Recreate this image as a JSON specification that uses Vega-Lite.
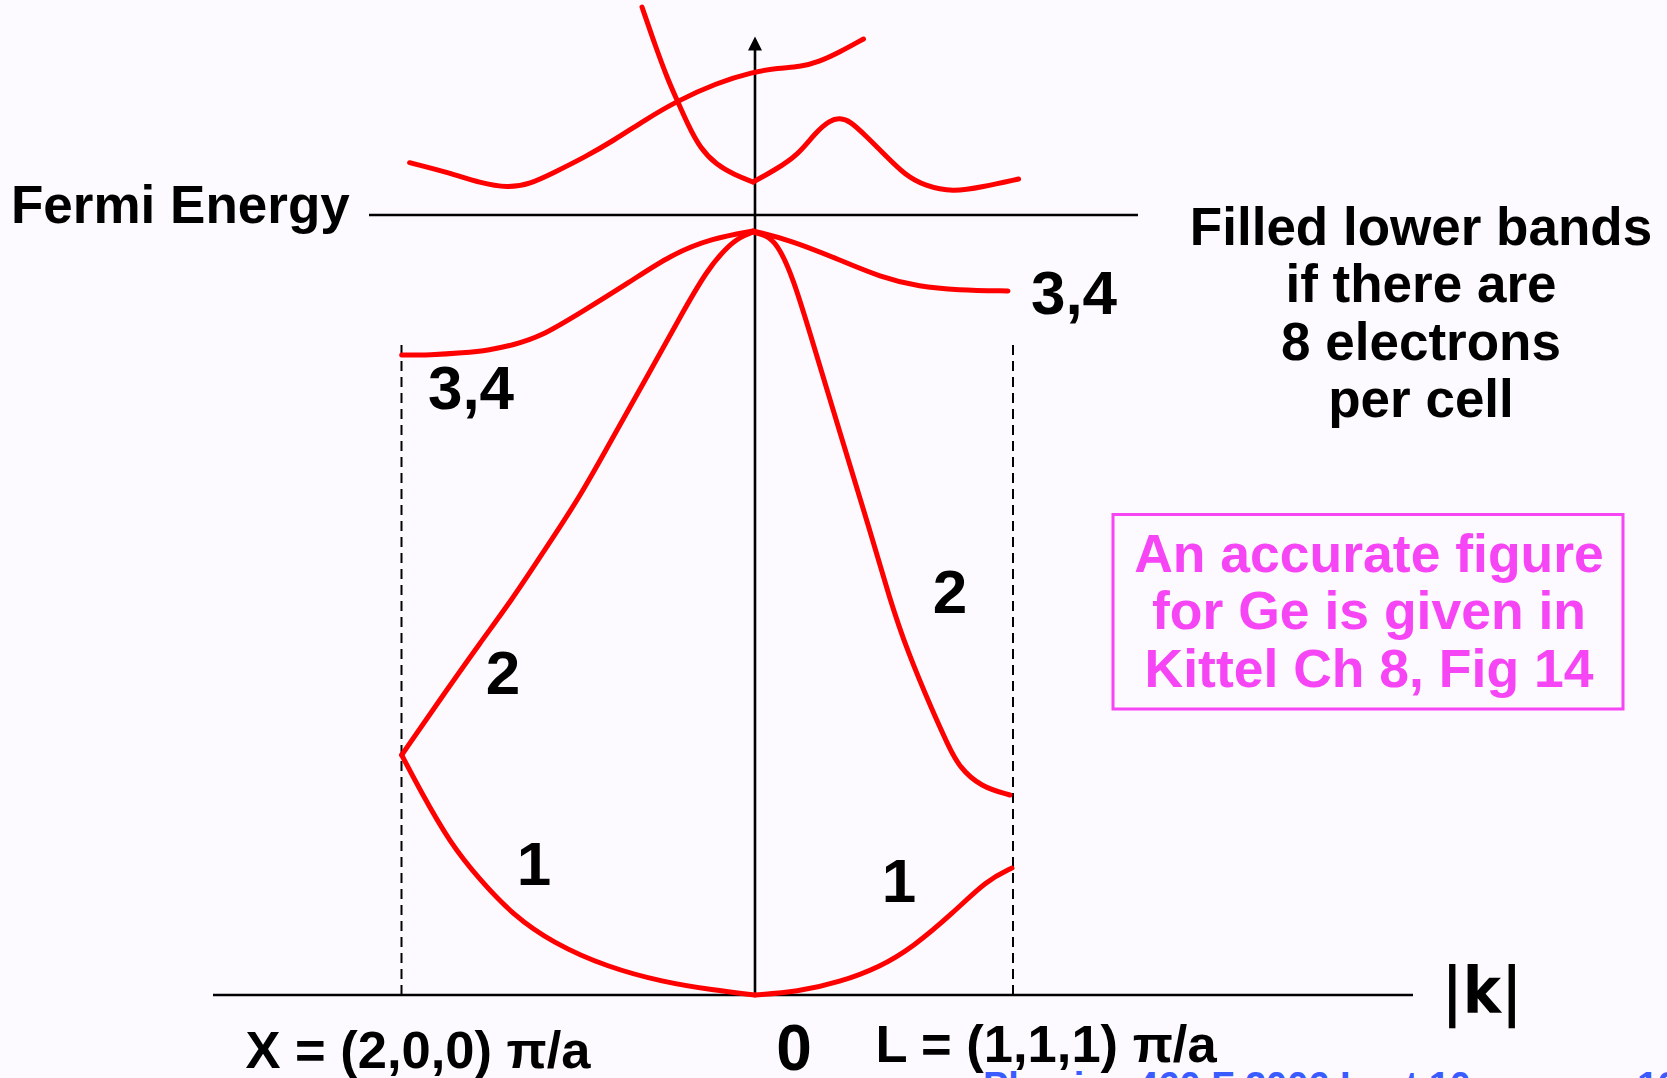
{
  "$schema": "https://vega.github.io/schema/vega-lite/v6.json",
  "width": 1667,
  "height": 1078,
  "autosize": {"type": "none"},
  "padding": 0,
  "background": "#fcfaff",
  "config": {"view": {"stroke": null}},
  "datasets": {
    "bands": [
      {"s": "A", "o": 1, "k": -345.4, "E": 832.3},
      {"s": "A", "o": 2, "k": -305, "E": 822},
      {"s": "A", "o": 3, "k": -275, "E": 812},
      {"s": "A", "o": 4, "k": -247, "E": 807},
      {"s": "A", "o": 5, "k": -225, "E": 811},
      {"s": "A", "o": 6, "k": -202, "E": 822},
      {"s": "A", "o": 7, "k": -170, "E": 838},
      {"s": "A", "o": 8, "k": -140.5, "E": 855},
      {"s": "A", "o": 9, "k": -110, "E": 875},
      {"s": "A", "o": 10, "k": -79.3, "E": 893.3},
      {"s": "A", "o": 11, "k": -38.5, "E": 912},
      {"s": "A", "o": 12, "k": -2, "E": 923},
      {"s": "A", "o": 13, "k": 23, "E": 927},
      {"s": "A", "o": 14, "k": 45, "E": 928},
      {"s": "A", "o": 15, "k": 63.6, "E": 933},
      {"s": "A", "o": 16, "k": 85, "E": 943},
      {"s": "A", "o": 17, "k": 108.5, "E": 956},

      {"s": "BL", "o": 1, "k": -113, "E": 988},
      {"s": "BL", "o": 2, "k": -100, "E": 950},
      {"s": "BL", "o": 3, "k": -87, "E": 915},
      {"s": "BL", "o": 4, "k": -79.3, "E": 898},
      {"s": "BL", "o": 5, "k": -67, "E": 870},
      {"s": "BL", "o": 6, "k": -55, "E": 847},
      {"s": "BL", "o": 7, "k": -38.5, "E": 830},
      {"s": "BL", "o": 8, "k": -20, "E": 820},
      {"s": "BL", "o": 9, "k": -2, "E": 813},
      {"s": "BR", "o": 1, "k": -2, "E": 813},
      {"s": "BR", "o": 2, "k": 20, "E": 825},
      {"s": "BR", "o": 3, "k": 43, "E": 840},
      {"s": "BR", "o": 4, "k": 60, "E": 862},
      {"s": "BR", "o": 5, "k": 75, "E": 875},
      {"s": "BR", "o": 6, "k": 85, "E": 877},
      {"s": "BR", "o": 7, "k": 95, "E": 874},
      {"s": "BR", "o": 8, "k": 110, "E": 860},
      {"s": "BR", "o": 9, "k": 130, "E": 840},
      {"s": "BR", "o": 10, "k": 150, "E": 820},
      {"s": "BR", "o": 11, "k": 170, "E": 809},
      {"s": "BR", "o": 12, "k": 198, "E": 803},
      {"s": "BR", "o": 13, "k": 227, "E": 808},
      {"s": "BR", "o": 14, "k": 263.6, "E": 816},

      {"s": "34L", "o": 1, "k": -353.3, "E": 640},
      {"s": "34L", "o": 2, "k": -325, "E": 640},
      {"s": "34L", "o": 3, "k": -292, "E": 642},
      {"s": "34L", "o": 4, "k": -265, "E": 645},
      {"s": "34L", "o": 5, "k": -242, "E": 650},
      {"s": "34L", "o": 6, "k": -215, "E": 658},
      {"s": "34L", "o": 7, "k": -175, "E": 682},
      {"s": "34L", "o": 8, "k": -125, "E": 713},
      {"s": "34L", "o": 9, "k": -85, "E": 740},
      {"s": "34L", "o": 10, "k": -42, "E": 757},
      {"s": "34L", "o": 11, "k": -2, "E": 764},
      {"s": "34R", "o": 1, "k": -2, "E": 764},
      {"s": "34R", "o": 2, "k": 35, "E": 755},
      {"s": "34R", "o": 3, "k": 85, "E": 735},
      {"s": "34R", "o": 4, "k": 125, "E": 718},
      {"s": "34R", "o": 5, "k": 165, "E": 708},
      {"s": "34R", "o": 6, "k": 202, "E": 705},
      {"s": "34R", "o": 7, "k": 253, "E": 704},

      {"s": "2L", "o": 1, "k": -353.3, "E": 240},
      {"s": "2L", "o": 2, "k": -308.3, "E": 305},
      {"s": "2L", "o": 3, "k": -275, "E": 352},
      {"s": "2L", "o": 4, "k": -243.3, "E": 395},
      {"s": "2L", "o": 5, "k": -215, "E": 438},
      {"s": "2L", "o": 6, "k": -175, "E": 498},
      {"s": "2L", "o": 7, "k": -142, "E": 558},
      {"s": "2L", "o": 8, "k": -108, "E": 618},
      {"s": "2L", "o": 9, "k": -75, "E": 678},
      {"s": "2L", "o": 10, "k": -48, "E": 725},
      {"s": "2L", "o": 11, "k": -28, "E": 748},
      {"s": "2L", "o": 12, "k": -15, "E": 758},
      {"s": "2L", "o": 13, "k": -2, "E": 763},
      {"s": "2R", "o": 1, "k": -2, "E": 763},
      {"s": "2R", "o": 2, "k": 10, "E": 760},
      {"s": "2R", "o": 3, "k": 22, "E": 752},
      {"s": "2R", "o": 4, "k": 38, "E": 718},
      {"s": "2R", "o": 5, "k": 58, "E": 652},
      {"s": "2R", "o": 6, "k": 88, "E": 552},
      {"s": "2R", "o": 7, "k": 114, "E": 468},
      {"s": "2R", "o": 8, "k": 135, "E": 395},
      {"s": "2R", "o": 9, "k": 152, "E": 345},
      {"s": "2R", "o": 10, "k": 177, "E": 285},
      {"s": "2R", "o": 11, "k": 193, "E": 250},
      {"s": "2R", "o": 12, "k": 204, "E": 228},
      {"s": "2R", "o": 13, "k": 226, "E": 208},
      {"s": "2R", "o": 14, "k": 255, "E": 200},

      {"s": "1L", "o": 1, "k": -353.3, "E": 240},
      {"s": "1L", "o": 2, "k": -335, "E": 205},
      {"s": "1L", "o": 3, "k": -305, "E": 152},
      {"s": "1L", "o": 4, "k": -275, "E": 115},
      {"s": "1L", "o": 5, "k": -242, "E": 80},
      {"s": "1L", "o": 6, "k": -202, "E": 52},
      {"s": "1L", "o": 7, "k": -148, "E": 28},
      {"s": "1L", "o": 8, "k": -92, "E": 13},
      {"s": "1L", "o": 9, "k": -42, "E": 5},
      {"s": "1L", "o": 10, "k": 0, "E": 0},
      {"s": "1R", "o": 1, "k": 0, "E": 0},
      {"s": "1R", "o": 2, "k": 42, "E": 3},
      {"s": "1R", "o": 3, "k": 85, "E": 13},
      {"s": "1R", "o": 4, "k": 125, "E": 28},
      {"s": "1R", "o": 5, "k": 158, "E": 48},
      {"s": "1R", "o": 6, "k": 198, "E": 82},
      {"s": "1R", "o": 7, "k": 232, "E": 115},
      {"s": "1R", "o": 8, "k": 257, "E": 127}
    ],
    "solidLines": [
      {"name": "k axis", "k": -542, "k2": 658, "E": 0, "E2": 0},
      {"name": "E axis", "k": 0, "k2": 0, "E": 0, "E2": 946},
      {"name": "Fermi", "k": -386, "k2": 383, "E": 780, "E2": 780}
    ],
    "dashedLines": [
      {"name": "X", "k": -353.5, "k2": -353.5, "E": 0, "E2": 655},
      {"name": "L", "k": 258, "k2": 258, "E": 0, "E2": 655}
    ],
    "bandLabels": [
      {"label": "3,4", "k": -284, "E": 586},
      {"label": "3,4", "k": 319, "E": 681},
      {"label": "2", "k": -252, "E": 301},
      {"label": "1", "k": -221, "E": 110.5},
      {"label": "2", "k": 195, "E": 382},
      {"label": "1", "k": 144, "E": 93.5}
    ],
    "kLabels": [
      {"label": "X = (2,0,0) π/a", "k": -337, "E": -73},
      {"label": "L = (1,1,1) π/a", "k": 291, "E": -67}
    ]
  },
  "encoding": {
    "x": {"field": "k", "type": "quantitative", "scale": {"domain": [-755, 912], "nice": false, "zero": false}, "axis": null},
    "y": {"field": "E", "type": "quantitative", "scale": {"domain": [-83, 995], "nice": false, "zero": false}, "axis": null}
  },
  "layer": [
    {
      "data": {"name": "solidLines"},
      "mark": {"type": "rule", "color": "#000000", "strokeWidth": 2.6},
      "encoding": {"x2": {"field": "k2"}, "y2": {"field": "E2"}}
    },
    {
      "data": {"name": "dashedLines"},
      "mark": {"type": "rule", "color": "#000000", "strokeWidth": 2, "strokeDash": [10, 6]},
      "encoding": {"x2": {"field": "k2"}, "y2": {"field": "E2"}}
    },
    {
      "data": {"values": [{"k": 0, "E": 951.5}]},
      "mark": {"type": "point", "shape": "M0,-1L1,1L-1,1Z", "size": 196, "filled": true, "color": "#000000", "opacity": 1},
      "encoding": {}
    },
    {
      "data": {"name": "bands"},
      "mark": {"type": "line", "color": "#ff0000", "strokeWidth": 5, "interpolate": "basis", "strokeCap": "round", "strokeJoin": "round"},
      "encoding": {"detail": {"field": "s", "type": "nominal"}, "order": {"field": "o", "type": "quantitative"}}
    },
    {
      "data": {"values": [{"k": 358, "k2": 868, "E": 480.5, "E2": 286}]},
      "mark": {"type": "rect", "filled": false, "stroke": "#f545f5", "strokeWidth": 3},
      "encoding": {"x2": {"field": "k2"}, "y2": {"field": "E2"}}
    },
    {
      "data": {"values": [{"label": "An accurate figure\nfor Ge is given in\nKittel Ch 8, Fig 14", "k": 614, "E": 423.3}]},
      "mark": {"type": "text", "font": "Liberation Sans", "fontWeight": "bold", "fontSize": 53.5, "color": "#f545f5", "align": "center", "baseline": "alphabetic", "lineBreak": "\n", "lineHeight": 57.5},
      "encoding": {"text": {"field": "label"}}
    },
    {
      "data": {"values": [{"label": "Fermi Energy", "k": -744, "E": 772}]},
      "mark": {"type": "text", "font": "Liberation Sans", "fontWeight": "bold", "fontSize": 53, "color": "#000000", "align": "left", "baseline": "alphabetic"},
      "encoding": {"text": {"field": "label"}}
    },
    {
      "data": {"values": [{"label": "Filled lower bands\nif there are\n8 electrons\nper cell", "k": 666, "E": 750}]},
      "mark": {"type": "text", "font": "Liberation Sans", "fontWeight": "bold", "fontSize": 53, "color": "#000000", "align": "center", "baseline": "alphabetic", "lineBreak": "\n", "lineHeight": 57.4},
      "encoding": {"text": {"field": "label"}}
    },
    {
      "data": {"name": "bandLabels"},
      "mark": {"type": "text", "font": "Liberation Sans", "fontWeight": "bold", "fontSize": 62, "color": "#000000", "align": "center", "baseline": "alphabetic"},
      "encoding": {"text": {"field": "label"}}
    },
    {
      "data": {"name": "kLabels"},
      "mark": {"type": "text", "font": "Liberation Sans", "fontWeight": "bold", "fontSize": 52.5, "color": "#000000", "align": "center", "baseline": "alphabetic"},
      "encoding": {"text": {"field": "label"}}
    },
    {
      "data": {"values": [{"label": "0", "k": 39, "E": -75}]},
      "mark": {"type": "text", "font": "Liberation Sans", "fontWeight": "bold", "fontSize": 64, "color": "#000000", "align": "center", "baseline": "alphabetic"},
      "encoding": {"text": {"field": "label"}}
    },
    {
      "data": {"values": [{"label": "|k|", "k": 727, "E": -18}]},
      "mark": {"type": "text", "font": "DejaVu Sans Condensed", "fontWeight": "bold", "fontSize": 64, "color": "#000000", "align": "center", "baseline": "alphabetic"},
      "encoding": {"text": {"field": "label"}}
    },
    {
      "data": {"values": [{"label": "Physics 460 F 2006 Lect 10", "k": 228, "E": -104}, {"label": "13", "k": 882, "E": -104}]},
      "mark": {"type": "text", "font": "Liberation Sans", "fontWeight": "bold", "fontSize": 38, "color": "#3a5bff", "align": "left", "baseline": "alphabetic"},
      "encoding": {"text": {"field": "label"}}
    }
  ]
}
